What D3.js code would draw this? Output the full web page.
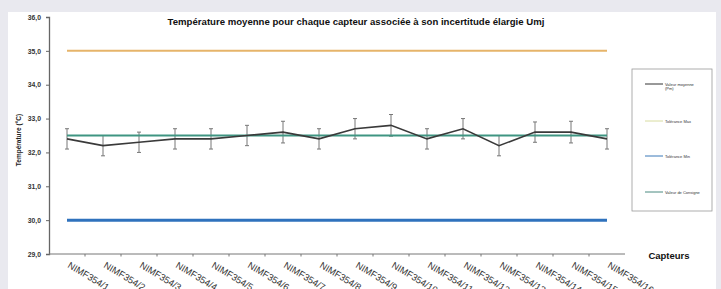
<!DOCTYPE html>
<html>
<head>
<meta charset="utf-8">
<script src="https://cdn.jsdelivr.net/npm/d3@7"></script>
<style>
  body { margin: 0; background: #e9e9ef; }
  svg { display: block; font-family: "Liberation Sans", Arial, sans-serif; }
</style>
</head>
<body>
<svg id="chart" width="721" height="289"></svg>
<script>
// capteurs et mesures
var capteurs = ["NIMF354/1", "NIMF354/2", "NIMF354/3", "NIMF354/4", "NIMF354/5", "NIMF354/6",
	"NIMF354/7", "NIMF354/8", "NIMF354/9", "NIMF354/10", "NIMF354/11", "NIMF354/12",
	"NIMF354/13", "NIMF354/14", "NIMF354/15", "NIMF354/16"];
var moyennes = [32.4, 32.2, 32.3, 32.4, 32.4, 32.5, 32.6, 32.4, 32.7, 32.8, 32.4, 32.7, 32.2, 32.6, 32.6, 32.4];
var incertitudes = [0.3, 0.3, 0.3, 0.3, 0.3, 0.3, 0.32, 0.3, 0.3, 0.32, 0.3, 0.3, 0.3, 0.3, 0.32, 0.3];
var tolMax = 35.0;
var tolMin = 30.0;
var consigne = 32.5;
var yTicks = [29, 30, 31, 32, 33, 34, 35, 36];
var legendLabels = [["Valeur moyenne", "(Pm)"], ["Tolérance Max"], ["Tolérance Min"], ["Valeur de Consigne"]];
var legendColors = ["#333333", "#d8dca0", "#3b78b8", "#4a8a80"];

var svg = d3.select("#chart");

// fond blanc du graphique
svg.append("rect")
	.attr("x", 8).attr("y", 12)
	.attr("width", 708).attr("height", 290)
	.attr("fill", "#ffffff");

var x = d3.scaleBand().domain(capteurs).range([49, 625]);
var y = d3.scaleLinear().domain([29, 36]).range([254, 17]);
var cx = d => x(d) + x.bandwidth() / 2;

// titre
svg.append("text")
	.attr("x", 356).attr("y", 25)
	.attr("text-anchor", "middle")
	.attr("font-size", 9.6).attr("font-weight", "bold")
	.attr("fill", "#111")
	.text("Température moyenne pour chaque capteur associée à son incertitude élargie Umj");

// axe y
var yAxis = svg.append("g")
	.attr("transform", "translate(49,0)")
	.call(d3.axisLeft(y).tickValues(yTicks).tickSize(3).tickFormat(d => d3.format(".1f")(d).replace(".", ",")));
yAxis.select(".domain").attr("stroke", "#666").attr("stroke-width", 1.3);
yAxis.selectAll(".tick line").attr("stroke", "#666");
yAxis.selectAll("text")
	.attr("font-size", 6.8).attr("font-weight", "bold")
	.attr("fill", "#333").attr("x", -8);

svg.append("text")
	.attr("transform", "translate(21,140) rotate(-90)")
	.attr("text-anchor", "middle")
	.attr("font-size", 6.5).attr("font-weight", "bold")
	.attr("fill", "#222")
	.text("Température (°C)");

// axe x
var xAxis = svg.append("g")
	.attr("transform", "translate(0,254)");
xAxis.append("line")
	.attr("x1", 49).attr("x2", 625)
	.attr("stroke", "#777").attr("stroke-width", 1);
xAxis.selectAll(".tk")
	.data(capteurs.slice(1))
	.enter().append("line")
		.attr("x1", d => x(d)).attr("x2", d => x(d))
		.attr("y1", 0).attr("y2", 2.5)
		.attr("stroke", "#777");
xAxis.selectAll(".lab")
	.data(capteurs)
	.enter().append("text")
		.attr("transform", d => `translate(${cx(d)},${13}) rotate(31)`)
		.attr("font-size", 9.4).attr("fill", "#333")
		.text(d => d);

svg.append("text")
	.attr("x", 669).attr("y", 259)
	.attr("text-anchor", "middle")
	.attr("font-size", 9.5).attr("font-weight", "bold")
	.attr("fill", "#111")
	.text("Capteurs");

var first = capteurs[0], last = capteurs[capteurs.length - 1];

// tolérances et consigne
svg.append("line")
	.attr("x1", cx(first)).attr("x2", cx(last))
	.attr("y1", y(tolMax)).attr("y2", y(tolMax))
	.attr("stroke", "#e6b46a").attr("stroke-width", 2);
svg.append("line")
	.attr("x1", cx(first)).attr("x2", cx(last))
	.attr("y1", y(tolMin)).attr("y2", y(tolMin))
	.attr("stroke", "#2f72bd").attr("stroke-width", 3);

// barres d'incertitude
var err = svg.append("g").attr("stroke", "#777").attr("stroke-width", 1);
capteurs.forEach(function(c, i) {
	var y1 = y(moyennes[i] + incertitudes[i]), y2 = y(moyennes[i] - incertitudes[i]);
	err.append("line").attr("x1", cx(c)).attr("x2", cx(c)).attr("y1", y1).attr("y2", y2);
	err.append("line").attr("x1", cx(c) - 2).attr("x2", cx(c) + 2).attr("y1", y1).attr("y2", y1);
	err.append("line").attr("x1", cx(c) - 2).attr("x2", cx(c) + 2).attr("y1", y2).attr("y2", y2);
});

svg.append("line")
	.attr("x1", cx(first)).attr("x2", cx(last))
	.attr("y1", y(consigne)).attr("y2", y(consigne))
	.attr("stroke", "#3f9582").attr("stroke-width", 2);

// valeur moyenne
var line = d3.line().x((d, i) => cx(capteurs[i])).y(d => y(d));
svg.append("path")
	.datum(moyennes)
	.attr("d", line)
	.attr("fill", "none")
	.attr("stroke", "#3a3a3a").attr("stroke-width", 1.6);

// légende
var leg = svg.append("g");
leg.append("rect")
	.attr("x", 632).attr("y", 69)
	.attr("width", 80).attr("height", 142)
	.attr("fill", "#fff").attr("stroke", "#999").attr("stroke-width", 0.8);
var legY = [84, 121, 156, 192];
legendLabels.forEach(function(lab, i) {
	leg.append("line")
		.attr("x1", 645).attr("x2", 663)
		.attr("y1", legY[i]).attr("y2", legY[i])
		.attr("stroke", legendColors[i]).attr("stroke-width", 1);
	lab.forEach(function(t, j) {
		leg.append("text")
			.attr("x", 665).attr("y", legY[i] + 1.5 + j * 4.5)
			.attr("font-size", 4).attr("fill", "#333")
			.text(t);
	});
});
</script>
</body>
</html>
